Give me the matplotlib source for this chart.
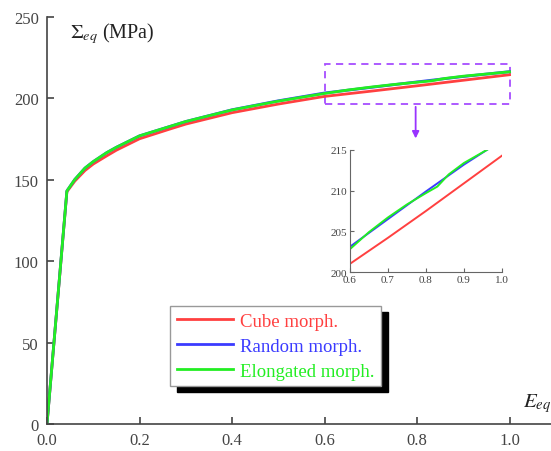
import numpy as np
import matplotlib
matplotlib.use("Agg")
import matplotlib.pyplot as plt
from matplotlib.patches import Rectangle

plt.rcParams["font.family"] = ["Liberation Serif", "DejaVu Serif"]
plt.rcParams["mathtext.fontset"] = "stix"

# strain / stress data
strain = [0, 0.043, 0.06, 0.082, 0.1, 0.129, 0.15, 0.2, 0.266, 0.3, 0.4, 0.5, 0.6, 0.7, 0.8, 0.9, 1.0]
cube = [0, 142.5, 149, 155.5, 159.5, 164.5, 168, 175, 181, 184, 191, 196.3, 201.0, 204.2, 207.5, 210.9, 214.3]
random_m = [0, 143, 150, 157, 161, 166.5, 169.8, 176.8, 182.6, 185.6, 192.8, 198.3, 203.1, 206.5, 209.9, 213.2, 216.2]
strain_el = [0, 0.043, 0.06, 0.082, 0.1, 0.129, 0.15, 0.2, 0.266, 0.3, 0.4, 0.5, 0.6, 0.65, 0.7, 0.75, 0.8, 0.83, 0.86, 0.9, 0.96, 1.0]
elongated = [0, 143, 150, 157, 161, 166.5, 169.8, 176.8, 182.6, 185.6, 192.7, 198.1, 202.8, 204.9, 206.7, 208.3, 209.7, 210.5, 212.0, 213.4, 215.0, 216.1]

series = [("Cube morph.", strain, cube, "#ff4040"),
          ("Random morph.", strain, random_m, "#3b3bff"),
          ("Elongated morph.", strain_el, elongated, "#22ee22")]

fig = plt.figure(figsize=(5.51, 4.52), dpi=100)
ax = fig.add_axes([0.0853, 0.0597, 0.915, 0.9015])

for lab, x, y, c in series:
    ax.plot(x, y, color=c, lw=2, label=lab)

ax.set_xlim(0, 1.09)
ax.set_ylim(0, 250)
ax.set_xticks([0, 0.2, 0.4, 0.6, 0.8, 1.0])
ax.set_xticklabels(["0.0", "0.2", "0.4", "0.6", "0.8", "1.0"])
ax.set_yticks([0, 50, 100, 150, 200, 250])
for s in ["top", "right"]:
    ax.spines[s].set_visible(False)
for s in ["left", "bottom"]:
    ax.spines[s].set_color("#444444")
    ax.spines[s].set_linewidth(1.2)
ax.tick_params(direction="in", length=5, width=1.2, color="#444444",
               labelsize=12, labelcolor="#444444")
ax.tick_params(axis="x", pad=6)
ax.tick_params(axis="y", pad=6)

ax.text(0.05, 240, r"$\Sigma_{eq}$ (MPa)", fontsize=14.5, ha="left", va="center", color="#222222")
ax.text(1.03, 13, r"$E_{eq}$", fontsize=15, ha="left", va="center", color="#222222")

# zoom box and arrow
ax.add_patch(Rectangle((0.6, 196.3), 0.4, 24.6, fill=False, ls=(0, (4, 3)),
                       ec="#a64dff", lw=1.3))
ax.annotate("", xy=(0.797, 173.5), xytext=(0.797, 196.3),
            arrowprops=dict(arrowstyle="-|>", color="#9933ff", lw=1.3, mutation_scale=10))

leg = ax.legend(loc="upper left", bbox_to_anchor=(0.244, 0.29), fontsize=13.5,
                frameon=True, fancybox=False, shadow=False, framealpha=1, handlelength=3.0,
                labelspacing=0.42, borderpad=0.35, handletextpad=0.4, borderaxespad=0)
leg.get_frame().set_edgecolor("#999999")
leg.get_frame().set_linewidth(1.0)
leg.set_zorder(5)
for t, (_, _, _, c) in zip(leg.get_texts(), series):
    t.set_color(c)

# black drop shadow behind the legend
fig.canvas.draw()
bb = leg.get_window_extent().transformed(fig.transFigure.inverted())
ax.add_patch(Rectangle((bb.x0 + 7 / 551, bb.y0 - 6 / 452), bb.width, bb.height,
                       transform=fig.transFigure, color="black", zorder=4, clip_on=False))

# inset
ins = fig.add_axes([0.635, 0.396, 0.276, 0.27])
for lab, x, y, c in series:
    ins.plot(x, y, color=c, lw=1.4)
ins.set_xlim(0.6, 1.0)
ins.set_ylim(200, 215)
ins.set_xticks([0.6, 0.7, 0.8, 0.9, 1.0])
ins.set_yticks([200, 205, 210, 215])
for s in ["top", "right"]:
    ins.spines[s].set_visible(False)
for s in ["left", "bottom"]:
    ins.spines[s].set_color("#666666")
ins.tick_params(direction="in", length=3, color="#666666", labelsize=8, labelcolor="#444444", pad=2)

fig.savefig("out.png", dpi=100)
